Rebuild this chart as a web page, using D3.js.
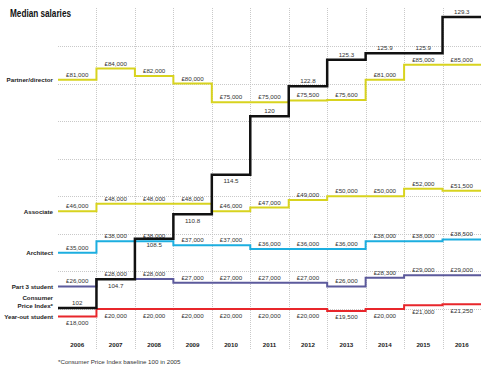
<!DOCTYPE html>
<html>
<head>
<meta charset="utf-8">
<script src="https://cdn.jsdelivr.net/npm/d3@7"></script>
<style>
  body { margin: 0; background: #fff; }
  text { font-family: "Liberation Sans", Arial, sans-serif; }
</style>
</head>
<body>
<svg></svg>
<script>
var w = 500;
var h = 373;

var years = ["2006", "2007", "2008", "2009", "2010", "2011", "2012", "2013", "2014", "2015", "2016"];
var partner = [81000, 84000, 82000, 80000, 75000, 75000, 75500, 75600, 81000, 85000, 85000];
var associate = [46000, 48000, 48000, 48000, 46000, 47000, 49000, 50000, 50000, 52000, 51500];
var architect = [35000, 38000, 38000, 37000, 37000, 36000, 36000, 36000, 38000, 38000, 38500];
var part3 = [26000, 28000, 28000, 27000, 27000, 27000, 27000, 26000, 28300, 29000, 29000];
var yearOut = [18000, 20000, 20000, 20000, 20000, 20000, 20000, 19500, 20000, 21000, 21250];
var cpi = [102, 104.7, 108.5, 110.8, 114.5, 120, 122.8, 125.3, 125.9, 125.9, 129.3];
var cpiBelow = [false, true, true, true, true, false, false, false, false, false, false];
var gridTicks = [20000, 30000, 40000, 50000, 60000, 70000, 80000, 90000];

var svg = d3.select("svg").attr("width", w).attr("height", h);

var x = d3.scaleBand().domain(years).range([58, 481]);
var y = d3.scaleLinear().domain([20000, 90000]).range([309, 46]);
var yc = d3.scaleLinear().domain([102, 129.3]).range([308, 17]);

// grid
svg.selectAll("line.h")
  .data(gridTicks)
  .enter()
  .append("line")
  .attr("x1", 58)
  .attr("x2", 481)
  .attr("y1", (d) => Math.round(y(d)) + 0.5)
  .attr("y2", (d) => Math.round(y(d)) + 0.5)
  .style("stroke", "#bbb")
  .style("stroke-width", 0.8)
  .style("stroke-dasharray", "1,1");

svg.selectAll("line.v")
  .data(years.slice(1))
  .enter()
  .append("line")
  .attr("x1", (d) => Math.round(x(d)) + 0.5)
  .attr("x2", (d) => Math.round(x(d)) + 0.5)
  .attr("y1", 8)
  .attr("y2", 349)
  .style("stroke", "#bbb")
  .style("stroke-width", 0.8)
  .style("stroke-dasharray", "1,1");

var fmt = d3.format(",");

var series = [
  { name: ["Partner/director"], values: partner, color: "#d8d31f", scale: y, below: () => false, money: true, width: 2 },
  { name: ["Associate"], values: associate, color: "#d8d31f", scale: y, below: () => false, money: true, width: 2 },
  { name: ["Architect"], values: architect, color: "#1caee0", scale: y, below: () => false, money: true, width: 2 },
  { name: ["Part 3 student"], values: part3, color: "#5c5a9c", scale: y, below: () => false, money: true, width: 2 },
  { name: ["Year-out student"], values: yearOut, color: "#e8262b", scale: y, below: () => true, money: true, width: 2 },
  { name: ["Consumer", "Price Index*"], values: cpi, color: "#111", scale: yc, below: (i) => cpiBelow[i], money: false, width: 2.5 }
];

var line = d3.line().curve(d3.curveStepAfter);

series.forEach((s) => {
  var pts = s.values.map((v, i) => [x(years[i]), s.scale(v)]);
  pts.push([x.range()[1], s.scale(s.values[s.values.length - 1])]);

  svg.append("path")
    .attr("d", line(pts))
    .style("fill", "none")
    .style("stroke", s.color)
    .style("stroke-width", s.width);

  svg.append("g")
    .selectAll("text")
    .data(s.values)
    .enter()
    .append("text")
    .attr("x", (d, i) => x(years[i]) + x.bandwidth() / 2)
    .attr("y", (d, i) => s.scale(d) + (s.below(i) ? 8.5 : -3))
    .attr("text-anchor", "middle")
    .attr("font-size", 6.2)
    .attr("fill", "#333")
    .text((d) => (s.money ? "£" + fmt(d) : d));

  var n = s.name.length;
  var base = s.scale(s.values[0]) + (n > 1 ? -0.5 : 2.2);
  s.name.forEach((t, k) => {
    svg.append("text")
      .attr("x", 53)
      .attr("y", base - (n - 1 - k) * 7.5)
      .attr("text-anchor", "end")
      .attr("font-size", 6.2)
      .attr("font-weight", "bold")
      .attr("fill", "#222")
      .text(t);
  });
});

// year labels
svg.selectAll("text.year")
  .data(years)
  .enter()
  .append("text")
  .attr("x", (d) => x(d) + x.bandwidth() / 2)
  .attr("y", 347)
  .attr("text-anchor", "middle")
  .attr("font-size", 6.2)
  .attr("font-weight", "bold")
  .attr("fill", "#222")
  .text((d) => d);

svg.append("text")
  .attr("x", 10)
  .attr("y", 16.5)
  .attr("font-size", 10.5)
  .attr("font-weight", "bold")
  .attr("textLength", 61)
  .attr("lengthAdjust", "spacingAndGlyphs")
  .attr("fill", "#111")
  .text("Median salaries");

svg.append("text")
  .attr("x", 58)
  .attr("y", 364)
  .attr("font-size", 6.2)
  .attr("fill", "#333")
  .text("*Consumer Price Index baseline 100 in 2005");
</script>
</body>
</html>
